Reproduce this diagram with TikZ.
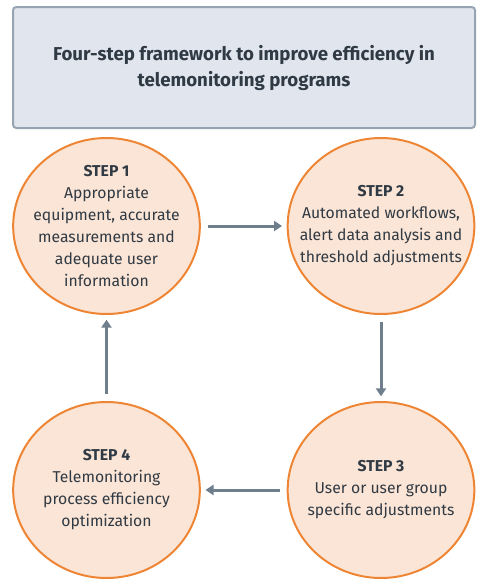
\documentclass[tikz,border=0pt]{standalone}
\usepackage{fontspec}
\setmainfont{Fira Sans}
\usetikzlibrary{shapes.geometric,arrows.meta}

\definecolor{titlefill}{RGB}{225,230,238}
\definecolor{titleline}{RGB}{150,164,178}
\definecolor{stepfill}{RGB}{251,229,214}
\definecolor{stepline}{RGB}{238,133,52}
\definecolor{inkdark}{RGB}{48,58,68}
\definecolor{arrowgray}{RGB}{110,126,141}

\tikzset{every picture/.style={line width=0.75pt}}
\tikzset{
  titlebox/.style={draw=titleline, fill=titlefill, line width=1.5, rounded corners=2.5,
    minimum width=346.5pt, minimum height=90.75pt, align=center, text=inkdark,
    font=\fontsize{14}{19.5}\selectfont\bfseries},
  stepcirc/.style={ellipse, draw=stepline, fill=stepfill, line width=1.5, inner sep=-14pt,
    minimum width=140pt, minimum height=132pt, align=center, text=inkdark,
    font=\fontsize{11.8}{16.5}\selectfont},
  flowarrow/.style={draw=arrowgray, line width=2.25, -{Triangle[length=6pt,width=7.5pt]},
    shorten <=5pt, shorten >=3.5pt}
}

\begin{document}
\begin{tikzpicture}[x=0.75pt,y=0.75pt,yscale=-1,xscale=1]
\path (0,0) rectangle (488,586); %set diagram size

% Title box
\node [titlebox] (title) at (244,67.5) {Four-step framework to improve efficiency in\\telemonitoring programs};

% Step circles
\node [stepcirc] (s1) at (106.5,226) {\textbf{STEP 1}\\Appropriate\\equipment, accurate\\measurements and\\adequate user\\information};
\node [stepcirc] (s2) at (381,226) {\textbf{STEP 2}\\Automated workflows,\\alert data analysis and\\threshold adjustments};
\node [stepcirc] (s3) at (381,490) {\textbf{STEP 3}\\User or user group\\specific adjustments};
\node [stepcirc] (s4) at (106.5,490) {\textbf{STEP 4}\\Telemonitoring\\process efficiency\\optimization};

% Arrows
\draw [flowarrow] (s1) -- (s2);
\draw [flowarrow] (s2) -- (s3);
\draw [flowarrow] (s3) -- (s4);
\draw [flowarrow] (s4) -- (s1);

\end{tikzpicture}
\end{document}
